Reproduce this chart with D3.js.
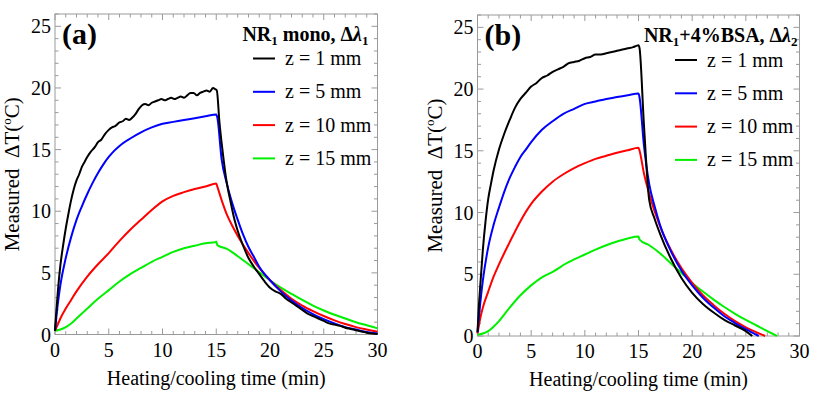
<!DOCTYPE html>
<html>
<head>
<meta charset="utf-8">
<script src="https://cdn.jsdelivr.net/npm/d3@7"></script>
<style>
  body { margin: 0; background: #fff; }
  text { font-family: "Liberation Serif", "Times New Roman", serif; }
</style>
</head>
<body>
<div id="chart"></div>
<script>
// panel (a): NR1 mono
var aZ1 = [[0,0.3],[0.1,1.6],[0.25,3.3],[0.5,5.6],[0.75,7.2],[1,8.6],[1.25,9.8],[1.5,10.9],[1.75,11.8],[2,12.5],[2.25,13],[2.5,13.6],[2.75,14],[3,14.4],[3.3,14.8],[3.7,15.2],[4,15.6],[4.3,15.8],[4.6,16.2],[5,16.6],[5.3,16.8],[5.6,16.9],[6,17.2],[6.3,17.3],[6.6,17.5],[6.9,17.4],[7.2,17.6],[7.5,17.9],[7.8,18.3],[8.1,18.6],[8.4,18.7],[8.7,18.6],[9,18.8],[9.3,18.9],[9.6,19],[9.9,19.1],[10.2,19.0],[10.5,19.1],[10.8,19.2],[11.1,19.1],[11.4,19.2],[11.7,19.3],[12,19.2],[12.3,19.4],[12.6,19.6],[12.9,19.6],[13.2,19.4],[13.5,19.6],[13.8,19.7],[14.1,19.8],[14.4,19.7],[14.7,20.0],[14.9,19.9],[15.05,19.8],[15.3,17.2],[15.6,14.8],[16,12.2],[16.3,10.9],[16.7,9.3],[17,8.4],[17.5,7.2],[18,6.2],[18.5,5.5],[19,4.9],[19.5,4.3],[20,3.8],[20.5,3.5],[21,3.3],[21.5,2.9],[22,2.6],[22.5,2.3],[23,2.0],[23.5,1.7],[24,1.5],[24.5,1.3],[25,1.1],[25.5,0.9],[26,0.8],[26.5,0.7],[27,0.55],[27.5,0.45],[28,0.35],[28.5,0.25],[29,0.15],[29.5,0.08],[30,0.05]];
var aZ5 = [[0,0.3],[0.25,2.4],[0.5,4.0],[1,6.2],[1.5,7.9],[2,9.3],[2.5,10.4],[3,11.4],[3.5,12.3],[4,13.1],[4.5,13.8],[5,14.4],[5.5,14.9],[6,15.3],[7,15.9],[8,16.4],[9,16.8],[10,17.1],[11,17.25],[12,17.4],[13,17.55],[14,17.7],[15,17.85],[15.1,17.6],[15.5,14.2],[16,12.2],[16.4,10.9],[17,9.3],[17.5,8.1],[18,7.1],[18.5,6.3],[19,5.5],[20,4.4],[21,3.5],[22,2.75],[23,2.15],[24,1.65],[25,1.25],[26,0.9],[27,0.6],[28,0.4],[29,0.2],[30,0.08]];
var aZ10 = [[0,0.3],[0.25,0.8],[0.5,1.3],[1,2.1],[1.5,2.8],[2,3.5],[3,4.7],[4,5.7],[5,6.6],[6,7.6],[7,8.5],[8,9.3],[9,10.1],[10,10.8],[11,11.25],[12,11.55],[13,11.8],[14,12.0],[15,12.25],[15.1,12.0],[15.5,10.9],[16,9.7],[16.5,8.8],[17,8.0],[18,6.6],[19,5.4],[20,4.4],[21,3.6],[22,2.9],[23,2.35],[24,1.9],[25,1.5],[26,1.15],[27,0.85],[28,0.6],[29,0.4],[30,0.22]];
var aZ15 = [[0,0.3],[0.5,0.4],[1,0.6],[1.5,0.9],[2,1.3],[3,2.1],[4,2.9],[5,3.6],[6,4.3],[7,4.9],[8,5.4],[9,5.9],[10,6.3],[11,6.7],[12,7.0],[13,7.2],[14,7.4],[14.95,7.5],[15,7.55],[15.1,7.25],[16,6.95],[17,6.35],[18,5.7],[19,5.05],[20,4.4],[21,3.8],[22,3.3],[23,2.8],[24,2.35],[25,1.95],[26,1.6],[27,1.3],[28,1.0],[29,0.75],[30,0.5]];

// panel (b): NR1 + 4% BSA
var bZ1 = [[0,0.3],[0.1,2],[0.25,4],[0.5,7],[0.75,9.3],[1,11.1],[1.25,12.3],[1.5,13.4],[2,15.1],[2.5,16.4],[3,17.5],[3.5,18.5],[4,19.2],[4.5,19.7],[5,20.2],[5.5,20.5],[6,20.9],[6.5,21.1],[7,21.4],[7.5,21.6],[8,21.8],[8.5,22.1],[9,22.2],[9.5,22.3],[10,22.5],[10.5,22.6],[11,22.8],[11.5,22.8],[12,22.9],[12.5,23.0],[13,23.1],[13.5,23.2],[14,23.3],[14.5,23.4],[14.8,23.5],[15,23.55],[15.1,23.3],[15.5,17.2],[16,11.0],[16.5,9.5],[17,8.3],[18,6.3],[19,4.7],[20,3.5],[21,2.6],[22,1.9],[23,1.3],[24,0.85],[25,0.4],[25.6,0]];
var bZ5 = [[0,0.3],[0.25,2.6],[0.5,4.5],[1,7.2],[1.5,9.0],[2,10.4],[2.5,11.7],[3,12.8],[3.5,13.7],[4,14.5],[4.5,15.1],[5,15.7],[6,16.7],[7,17.4],[8,18.0],[9,18.4],[10,18.8],[11,19.0],[12,19.2],[13,19.35],[14,19.5],[15,19.65],[15.1,19.3],[15.5,15.5],[16,12.3],[16.5,10.5],[17,9.0],[18,6.9],[19,5.3],[20,4.1],[21,3.1],[22,2.3],[23,1.6],[24,1.05],[25,0.55],[26.2,0]];
var bZ10 = [[0,0.2],[0.25,1.4],[0.5,2.3],[1,3.6],[1.5,4.8],[2,5.8],[3,7.6],[4,9.3],[5,10.7],[6,11.7],[7,12.5],[8,13.1],[9,13.6],[10,14.0],[11,14.35],[12,14.6],[13,14.85],[14,15.05],[15,15.25],[15.1,15.0],[15.5,13.2],[16,11.5],[17,8.9],[18,7.0],[19,5.5],[20,4.3],[21,3.3],[22,2.5],[23,1.8],[24,1.2],[25,0.7],[26,0.3],[26.8,0]];
var bZ15 = [[0,0.1],[0.5,0.2],[1,0.4],[1.5,0.75],[2,1.2],[3,2.3],[4,3.3],[5,4.1],[6,4.75],[7,5.2],[7.5,5.45],[8,5.75],[9,6.2],[10,6.6],[11,7.0],[12,7.35],[13,7.65],[14,7.9],[15,8.05],[15.1,7.8],[16,7.35],[17,6.7],[18,5.9],[19,5.1],[20,4.3],[21,3.6],[22,2.95],[23,2.35],[24,1.8],[25,1.3],[26,0.85],[27,0.4],[27.9,0]];

var legendLabels = ["z = 1 mm", "z = 5 mm", "z = 10 mm", "z = 15 mm"];
var seriesColors = ["#000000", "#0000ff", "#ff0000", "#00f000"];
var xTicks = [0, 5, 10, 15, 20, 25, 30];
var yTicks = [0, 5, 10, 15, 20, 25];

var width = 830, height = 399;

var svg = d3.select("#chart").append("svg")
    .attr("width", width)
    .attr("height", height);

function drawPanel(opt) {
    var x = d3.scaleLinear().domain([0, 30]).range([opt.left, opt.right]);
    var y = d3.scaleLinear().domain([0, 26]).range([opt.bottom, opt.top]);
    var g = svg.append("g");
    var frameColor = "#9a9a9a";

    // ticks on all four sides, pointing in
    d3.range(0, 31, 1).forEach(function(t) {
        var len = (t % 5 === 0) ? 6 : 3.5;
        g.append("line").attr("x1", x(t)).attr("x2", x(t))
            .attr("y1", opt.bottom).attr("y2", opt.bottom - len)
            .attr("stroke", frameColor).attr("stroke-width", 1);
        g.append("line").attr("x1", x(t)).attr("x2", x(t))
            .attr("y1", opt.top).attr("y2", opt.top + len)
            .attr("stroke", frameColor).attr("stroke-width", 1);
    });
    d3.range(0, 27, 1).forEach(function(v) {
        var len = (v % 5 === 0) ? 6 : 3.5;
        g.append("line").attr("y1", y(v)).attr("y2", y(v))
            .attr("x1", opt.left).attr("x2", opt.left + len)
            .attr("stroke", frameColor).attr("stroke-width", 1);
        g.append("line").attr("y1", y(v)).attr("y2", y(v))
            .attr("x1", opt.right).attr("x2", opt.right - len)
            .attr("stroke", frameColor).attr("stroke-width", 1);
    });

    g.append("rect")
        .attr("x", opt.left).attr("y", opt.top)
        .attr("width", opt.right - opt.left).attr("height", opt.bottom - opt.top)
        .attr("fill", "none").attr("stroke", frameColor).attr("stroke-width", 1);

    // tick labels
    g.selectAll(".xl").data(xTicks).enter().append("text")
        .attr("x", (d) => x(d))
        .attr("y", opt.bottom + 22)
        .attr("text-anchor", "middle")
        .attr("font-size", 20)
        .text((d) => d);
    g.selectAll(".yl").data(yTicks).enter().append("text")
        .attr("x", opt.left - 4)
        .attr("y", (d) => y(d) + 7)
        .attr("text-anchor", "end")
        .attr("font-size", 20)
        .text((d) => d);

    // axis titles
    g.append("text")
        .attr("x", (opt.left + opt.right) / 2)
        .attr("y", opt.bottom + 50)
        .attr("text-anchor", "middle")
        .attr("font-size", 20)
        .text("Heating/cooling time (min)");

    var yt = g.append("text")
        .attr("transform", "translate(" + (opt.left - 36) + "," + ((opt.top + opt.bottom) / 2) + ") rotate(-90)")
        .attr("text-anchor", "middle")
        .attr("font-size", 21);
    yt.append("tspan").text("Measured\u00a0 \u0394T(");
    yt.append("tspan").attr("font-size", 13).attr("dy", -8).text("o");
    yt.append("tspan").attr("dy", 8).text("C)");

    // curves
    var line = d3.line()
        .curve(d3.curveMonotoneX)
        .x((d) => x(d[0]))
        .y((d) => y(d[1]));
    for (var k = opt.series.length - 1; k >= 0; k--) {
        g.append("path")
            .datum(opt.series[k])
            .attr("d", line)
            .attr("fill", "none")
            .attr("stroke", seriesColors[k])
            .attr("stroke-width", 2)
            .attr("stroke-linejoin", "round");
    }

    // panel letter
    g.append("text")
        .attr("x", opt.left + 7)
        .attr("y", opt.top + 30)
        .attr("font-size", 30)
        .attr("font-weight", "bold")
        .text(opt.letter);

    // panel title with subscripts
    var tt = g.append("text")
        .attr("x", opt.right - opt.titleInset)
        .attr("y", opt.top + 27)
        .attr("text-anchor", "end")
        .attr("font-size", 20)
        .attr("font-weight", "bold");
    opt.title.forEach(function(p) {
        var ts = tt.append("tspan").text(p.t);
        if (p.sub) ts.attr("font-size", 13).attr("dy", 4);
        if (p.up) ts.attr("dy", -4);
        if (p.it) ts.attr("font-style", "italic");
    });

    // legend
    legendLabels.forEach(function(lbl, i) {
        var ly = opt.legendTop + i * 33.3;
        g.append("line")
            .attr("x1", opt.legendX).attr("x2", opt.legendX + 22)
            .attr("y1", ly).attr("y2", ly)
            .attr("stroke", seriesColors[i]).attr("stroke-width", 2);
        g.append("text")
            .attr("x", opt.legendX + 32)
            .attr("y", ly + 6.5)
            .attr("font-size", 20)
            .text(lbl);
    });
}

drawPanel({
    left: 55, right: 377.5, top: 14, bottom: 334.5,
    letter: "(a)", titleInset: 9,
    title: [{t: "NR"}, {t: "1", sub: true}, {t: " mono, \u0394", up: true}, {t: "\u03bb", it: true}, {t: "1", sub: true}],
    legendX: 253, legendTop: 58.5,
    series: [aZ1, aZ5, aZ10, aZ15]
});

drawPanel({
    left: 477.5, right: 799.5, top: 15, bottom: 336,
    letter: "(b)", titleInset: 2,
    title: [{t: "NR"}, {t: "1", sub: true}, {t: "+4%BSA, \u0394", up: true}, {t: "\u03bb", it: true}, {t: "2", sub: true}],
    legendX: 675, legendTop: 60,
    series: [bZ1, bZ5, bZ10, bZ15]
});
</script>
</body>
</html>
